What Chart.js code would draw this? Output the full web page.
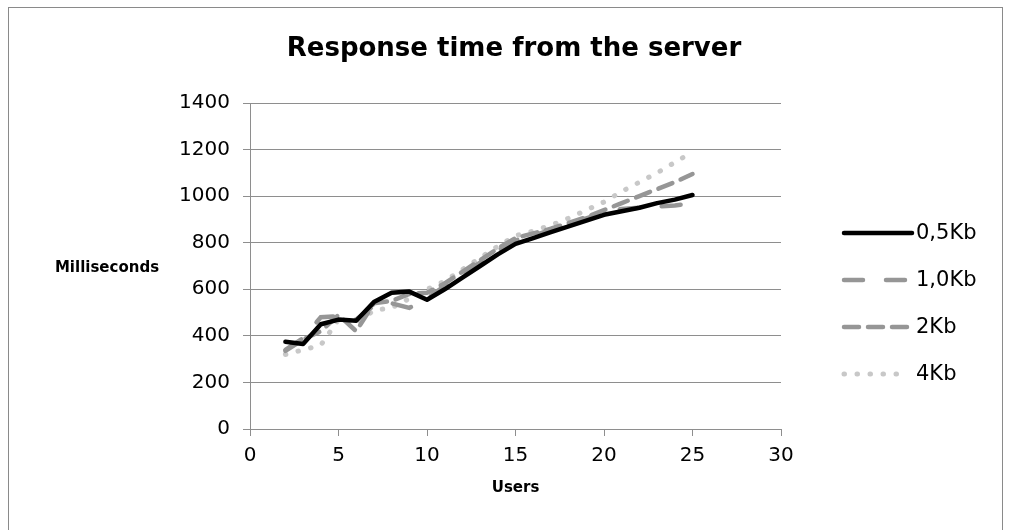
<!DOCTYPE html>
<html>
<head>
<meta charset="utf-8">
<script src="https://cdn.jsdelivr.net/npm/chart.js@4.4.0/dist/chart.umd.min.js"></script>
<style>
  html, body { margin: 0; padding: 0; background: #fff; }
  #wrap { width: 1010px; height: 530px; }
</style>
</head>
<body>
<div id="wrap"><canvas id="chart" width="1010" height="530"></canvas></div>
<script>
// users on the x axis
const users = [2, 3, 4, 5, 6, 7, 8, 9, 10, 11, 12, 13, 14, 15, 16, 17, 18, 19, 20, 21, 22, 23, 24, 25];

// response times in ms
const kb05 = [375, 365, 450, 470, 465, 545, 585, 590, 555, 600, 650, 700, 750, 795, 820, 845, 870, 895, 920, 935, 950, 970, 985, 1005];
const kb10 = [340, 390, 480, 485, 470, 530, 540, 520, 560, 615, 665, 715, 765, 810, 830, 855, 880, 905, 930, 945, 950, 955, 960, 968];
const kb2 = [335, 385, 420, 490, 420, 540, 550, 580, 585, 625, 675, 725, 775, 820, 840, 860, 885, 910, 940, 970, 1000, 1030, 1060, 1095];
const kb4 = [320, 340, 360, 470, 450, 510, 520, 560, 600, 635, 685, 735, 785, 830, 850, 875, 905, 940, 975, 1020, 1060, 1100, 1145, 1190];

const seriesNames = ["0,5Kb", "1,0Kb", "2Kb", "4Kb"];
const yTicks = [0, 200, 400, 600, 800, 1000, 1200, 1400];
const xTicks = [0, 5, 10, 15, 20, 25, 30];

const chartTitle = "Response time from the server";
const yTitle = "Milliseconds";
const xTitle = "Users";

const FONT = "'DejaVu Sans', Verdana, sans-serif";
const GRID = "#8e8e8e";

const toPoints = (vals) => vals.map((v, i) => ({ x: users[i], y: v }));

// frame, title, horizontal y title and the legend on the right
const extras = {
  id: "extras",
  beforeDraw(chart) {
    const ctx = chart.ctx;
    ctx.save();
    ctx.strokeStyle = "#8a8a8a";
    ctx.lineWidth = 1;
    ctx.strokeRect(8.5, 7.5, 994, 540);
    ctx.restore();
  },
  afterDraw(chart) {
    const ctx = chart.ctx;
    ctx.save();
    ctx.fillStyle = "#000";
    ctx.textAlign = "center";
    ctx.textBaseline = "middle";
    ctx.font = "bold 26px " + FONT;
    ctx.fillText(chartTitle, 514, 49);
    ctx.font = "bold 15px " + FONT;
    ctx.fillText(yTitle, 107, 268);

    // legend
    ctx.font = "21px " + FONT;
    ctx.textAlign = "left";
    chart.data.datasets.forEach((ds, i) => {
      const y = 233 + i * 47;
      ctx.beginPath();
      ctx.strokeStyle = ds.borderColor;
      ctx.lineWidth = i === 0 ? 4.5 : (i === 3 ? 5 : 4.5);
      ctx.lineCap = "round";
      ctx.setLineDash(ds.legendDash);
      ctx.moveTo(844, y);
      ctx.lineTo(i === 0 ? 912 : 907, y);
      ctx.stroke();
      ctx.setLineDash([]);
      ctx.fillStyle = "#000";
      ctx.fillText(seriesNames[i], 916, y + 1);
    });
    ctx.restore();
  }
};

new Chart(document.getElementById("chart"), {
  type: "line",
  data: {
    datasets: [
      {
        label: seriesNames[0],
        data: toPoints(kb05),
        borderColor: "#000000",
        borderWidth: 4.5,
        borderCapStyle: "round",
        borderJoinStyle: "round",
        legendDash: [],
        order: 1
      },
      {
        label: seriesNames[1],
        data: toPoints(kb10),
        borderColor: "#969696",
        borderWidth: 4.5,
        borderDash: [19, 23],
        borderCapStyle: "round",
        legendDash: [19, 23],
        order: 2
      },
      {
        label: seriesNames[2],
        data: toPoints(kb2),
        borderColor: "#969696",
        borderWidth: 4.5,
        borderDash: [15, 9],
        borderCapStyle: "round",
        legendDash: [15, 9],
        order: 3
      },
      {
        label: seriesNames[3],
        data: toPoints(kb4),
        borderColor: "#c8c8c8",
        borderWidth: 5,
        borderDash: [0.5, 12.5],
        borderCapStyle: "round",
        legendDash: [0.5, 12.5],
        order: 4
      }
    ]
  },
  options: {
    responsive: false,
    animation: false,
    elements: { point: { radius: 0 }, line: { tension: 0 } },
    layout: { padding: { left: 170, right: 229, top: 103, bottom: 20 } },
    plugins: {
      legend: { display: false },
      tooltip: { enabled: false },
      title: { display: false }
    },
    scales: {
      x: {
        type: "linear",
        min: 0,
        max: 30,
        afterBuildTicks: (s) => { s.ticks = xTicks.map((v) => ({ value: v })); },
        afterFit: (s) => { s.height = 81; },
        ticks: {
          color: "#000",
          font: { family: FONT, size: 20 },
          padding: 8,
          callback: (v) => String(v)
        },
        grid: { display: true, drawOnChartArea: false, color: GRID, tickLength: 7 },
        border: { color: GRID, width: 1 },
        title: {
          display: true,
          text: xTitle,
          color: "#000",
          font: { family: FONT, size: 15, weight: "bold" },
          padding: { top: 10, bottom: 13 }
        }
      },
      y: {
        min: 0,
        max: 1400,
        afterBuildTicks: (s) => { s.ticks = yTicks.map((v) => ({ value: v })); },
        afterFit: (s) => { s.width = 80; },
        ticks: {
          color: "#000",
          font: { family: FONT, size: 20 },
          padding: 13,
          callback: (v) => String(v)
        },
        grid: { color: GRID, lineWidth: 1, tickLength: 7 },
        border: { color: GRID, width: 1 }
      }
    }
  },
  plugins: [extras]
});
</script>
</body>
</html>
